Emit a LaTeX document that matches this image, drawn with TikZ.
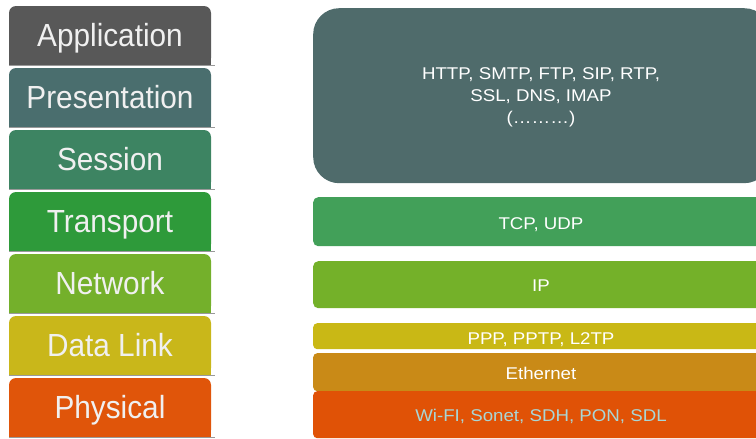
\documentclass[tikz,border=0pt]{standalone}
\usepackage{fontspec}
\setmainfont{Liberation Sans}
\newfontfamily\layerfont[FakeStretch=0.93]{Liberation Sans}
\newfontfamily\protfont[FakeStretch=1.1]{Liberation Sans}
\definecolor{cApp}{HTML}{585858}
\definecolor{cPres}{HTML}{4A6E6E}
\definecolor{cSess}{HTML}{3D8462}
\definecolor{cTrans}{HTML}{2E9A3A}
\definecolor{cNet}{HTML}{74B02B}
\definecolor{cData}{HTML}{C9B71A}
\definecolor{cPhys}{HTML}{E0550A}
\definecolor{rApp}{HTML}{4F6B6B}
\definecolor{rTcp}{HTML}{42A059}
\definecolor{rIp}{HTML}{74B129}
\definecolor{rPpp}{HTML}{C9B815}
\definecolor{rEth}{HTML}{C98A17}
\definecolor{rPhy}{HTML}{E05206}
\definecolor{rPhyTxt}{HTML}{A9D6D6}
\begin{document}
\begin{tikzpicture}[x=1pt,y=-1pt,
  layertxt/.style={text=white!94!black,font=\layerfont\fontsize{32}{34}\selectfont,inner sep=0pt,anchor=base},
  prottxt/.style={text=white,font=\protfont\fontsize{17}{22.3}\selectfont,align=center,inner sep=0pt},
  protbox/.style={inner sep=0pt,minimum width=457pt,anchor=north west},
  shadowline/.style={draw=gray!80,line width=0.8pt}]
\useasboundingbox (0,0) rectangle (756,439);
\clip (0,0) rectangle (756,439);
% left layer column
\foreach \t/\b/\c/\n/\lab in {6/65/cApp/app/Application,68/127/cPres/pres/Presentation,130/189/cSess/sess/Session,192/251/cTrans/trans/Transport,254/313/cNet/net/Network,316/375/cData/data/Data Link,378/437/cPhys/phys/Physical}{
  \fill[\c,rounded corners=7pt] (9,\b) -- (9,\t) -- (211,\t) -- (211,\b) [sharp corners] -- cycle;
  \fill[\c] (9,\b-9) rectangle (211,\b);
  \draw[shadowline] (9,\b+0.5) -- (215,\b+0.5);
  \node[layertxt] (\n) at (110,\b-18.5) {\lab};
}
% right protocol column
\node[protbox,fill=rApp,rounded corners=26pt,minimum height=175pt] (rapp) at (313,8) {};
\node[prottxt] (rapptxt) at (541,97.5) {HTTP, SMTP, FTP, SIP, RTP,\\SSL, DNS, IMAP\\(………)};
\node[protbox,fill=rTcp,rounded corners=5pt,minimum height=49pt] (rtcp) at (313,197) {};
\node[prottxt,anchor=base] (rtcptxt) at (541,229) {TCP, UDP};
\node[protbox,fill=rIp,rounded corners=5pt,minimum height=47pt] (rip) at (313,261) {};
\node[prottxt,anchor=base] (riptxt) at (541,291.5) {IP};
\node[protbox,fill=rPpp,rounded corners=4pt,minimum height=26pt] (rppp) at (313,323) {};
\node[prottxt,anchor=base] (rppptxt) at (541,344.5) {PPP, PPTP, L2TP};
\node[protbox,fill=rEth,rounded corners=4pt,minimum height=38pt] (reth) at (313,353) {};
\node[prottxt,anchor=base] (rethtxt) at (541,379.5) {Ethernet};
\node[protbox,fill=rPhy,rounded corners=4pt,minimum height=47pt] (rphy) at (313,391) {};
\node[prottxt,anchor=base,text=rPhyTxt] (rphytxt) at (541,421.5) {Wi-FI, Sonet, SDH, PON, SDL};
\end{tikzpicture}
\end{document}
